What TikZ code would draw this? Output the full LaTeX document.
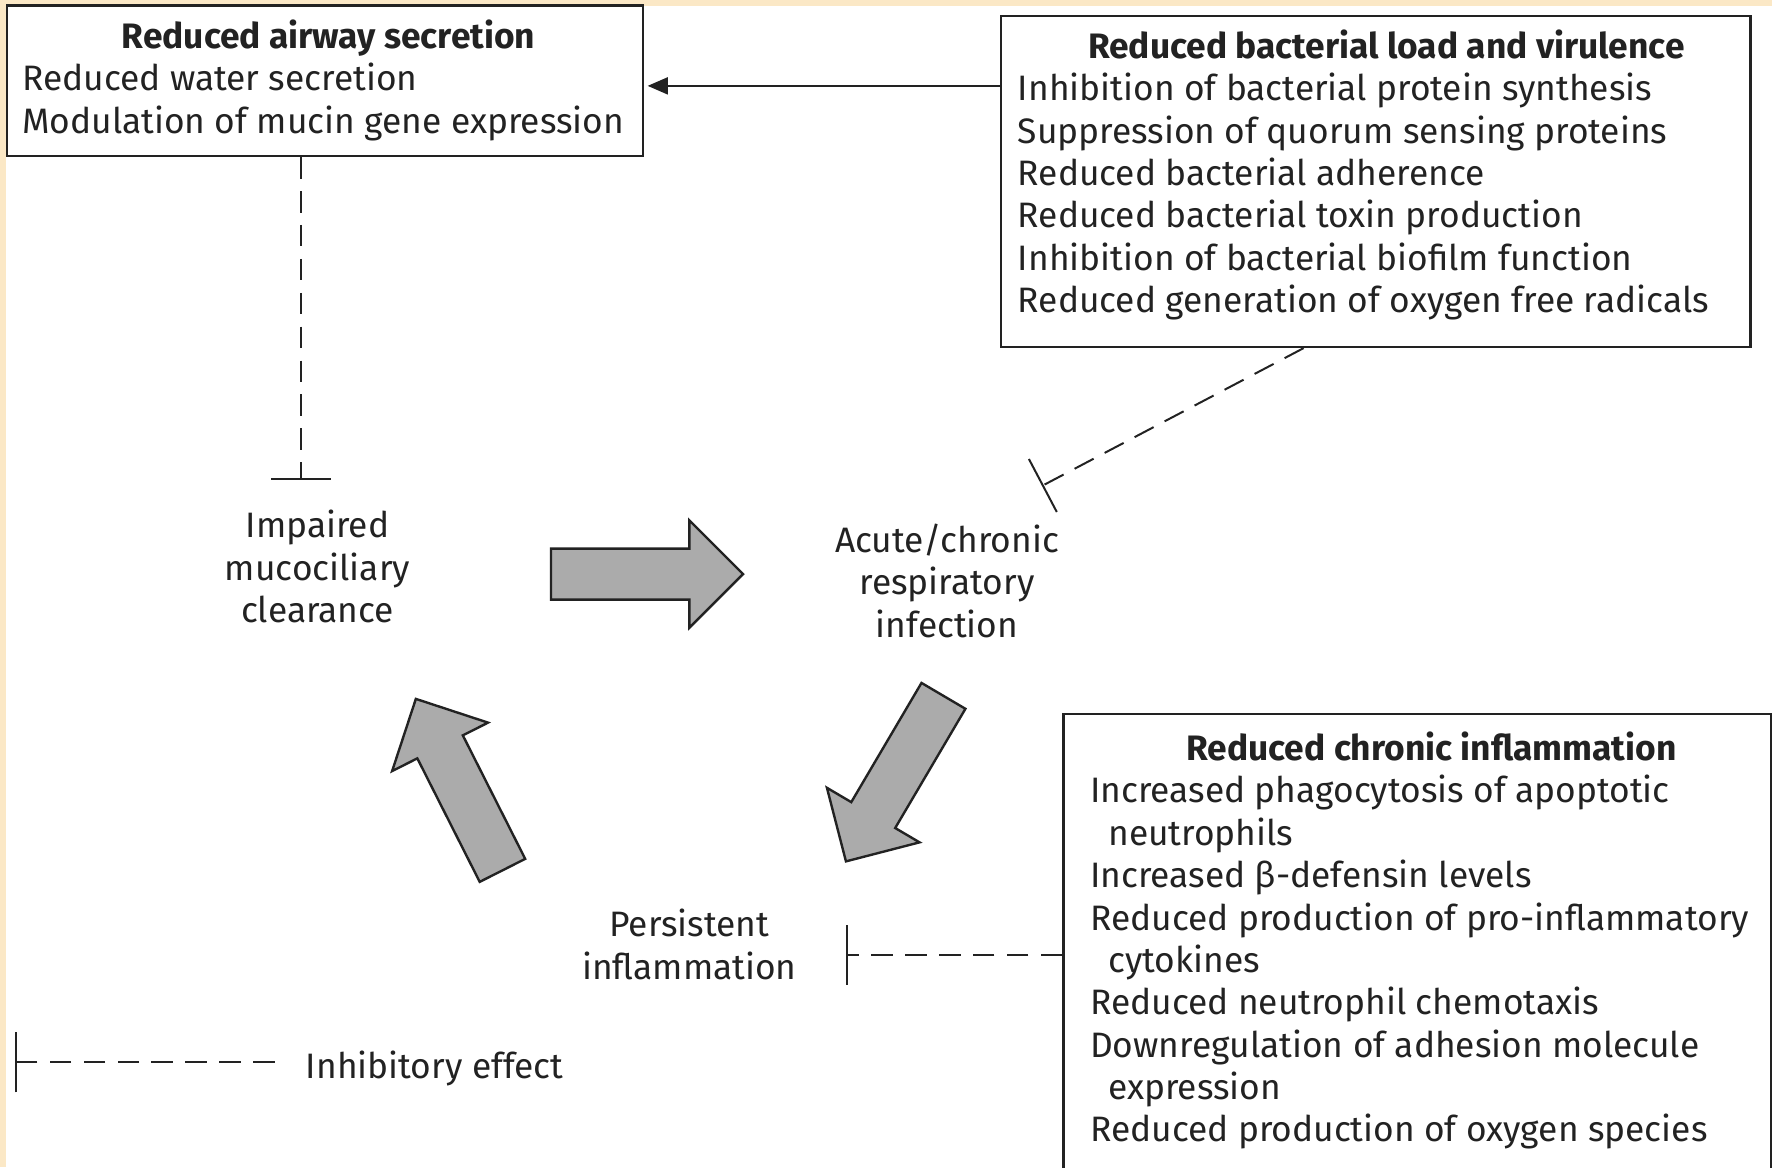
\documentclass[tikz,border=0pt]{standalone}
\usepackage{fontspec}
\setmainfont{Fira Sans}
\usetikzlibrary{arrows.meta,shapes.arrows,positioning}
\definecolor{scanbg}{HTML}{FBE8C6}
\definecolor{arrowgray}{HTML}{ABABAB}
\definecolor{inkline}{HTML}{222222}

\begin{document}
\begin{tikzpicture}[
	txt/.style={font=\fontsize{8.9}{10.67}\selectfont, inner sep=0pt, text=inkline},
	infobox/.style={shape=rectangle, draw=inkline, line width=0.6pt},
	bigarrow/.style={single arrow, draw=inkline, fill=arrowgray, line width=0.6pt, inner sep=0pt, inner ysep=0.215cm, minimum width=0pt, single arrow head extend=0.25cm, minimum height=1.70cm, anchor=tip},
	inhib/.style={draw=inkline, line width=0.5pt, dash pattern=on 0.19cm off 0.11cm, -{Bar[width=0.53cm]}}]
	% Background:
	\fill[scanbg] (0,0) rectangle (15.68,10.33);
	\fill[white] (0.05,0) rectangle (15.68,10.28);
	\clip (0,0) rectangle (15.68,10.33);
	% Boxes and their texts (anchored at the last baseline):
	\node[infobox, minimum width=5.63cm, minimum height=1.33cm] (airbox) at (2.875, 9.615) {};
	\node[txt, anchor=base west, align=left] (airtxt) at (0.19, 9.15) {\makebox[5.42cm]{\bfseries Reduced airway secretion}\\Reduced water secretion\\Modulation of mucin gene expression};
	\node[infobox, minimum width=6.63cm, minimum height=2.93cm] (bactbox) at (12.175, 8.725) {};
	\node[txt, anchor=base west, align=left] (bacttxt) at (9.00, 7.564) {\makebox[6.52cm]{\bfseries Reduced bacterial load and virulence}\\Inhibition of bacterial protein synthesis\\Suppression of quorum sensing proteins\\Reduced bacterial adherence\\Reduced bacterial toxin production\\Inhibition of bacterial biofilm function\\Reduced generation of oxygen free radicals};
	\node[infobox, minimum width=6.26cm, minimum height=4.31cm] (inflbox) at (12.54, 1.855) {};
	\node[txt, anchor=base west, align=left] (infltxt) at (9.64, 0.225) {\makebox[6.04cm]{\bfseries Reduced chronic inflammation}\\Increased phagocytosis of apoptotic\\\hspace*{0.16cm}neutrophils\\Increased β-defensin levels\\Reduced production of pro-inflammatory\\\hspace*{0.16cm}cytokines\\Reduced neutrophil chemotaxis\\Downregulation of adhesion molecule\\\hspace*{0.16cm}expression\\Reduced production of oxygen species};
	% The cycle:
	\node[txt, align=center, anchor=base] (mucus) at (2.81, 4.82) {Impaired\\mucociliary\\clearance};
	\node[txt, align=center, anchor=base] (infect) at (8.38, 4.69) {Acute/chronic\\respiratory\\infection};
	\node[txt, align=center, anchor=base] (inflam) at (6.10, 1.665) {Persistent\\inflammation};
	\node[bigarrow] (arrowright) at (6.59, 5.25) {};
	\node[bigarrow, rotate=239.5] (arrowdown) at (7.478, 2.695) {};
	\node[bigarrow, rotate=116.8] (arrowup) at (3.673, 4.159) {};
	% Effects:
	\coordinate (airin) at ([yshift=-0.045cm]airbox.east);
	\draw[draw=inkline, line width=0.6pt, -{Triangle[length=0.18cm, width=0.15cm]}, shorten >=0.03cm] (bactbox.west |- airin) -- (airin);
	\coordinate (mccbar) at (2.66, 6.08);
	\draw[inhib] (airbox.south -| mccbar) -- (mccbar);
	\coordinate (infbar) at (9.22, 6.03);
	\draw[inhib] ([xshift=-0.64cm]bactbox.south) -- (infbar);
	\coordinate (inflbar) at (7.49, 1.88);
	\draw[inhib] (inflbox.west |- inflbar) -- (inflbar);
	% Legend:
	\node[txt, anchor=base west] (legtxt) at (2.70, 0.79) {Inhibitory effect};
	\coordinate (legbar) at (0.13, 0.93);
	\draw[inhib] (legtxt.west |- legbar) ++(-0.27,0) -- (legbar);
\end{tikzpicture}
\end{document}
